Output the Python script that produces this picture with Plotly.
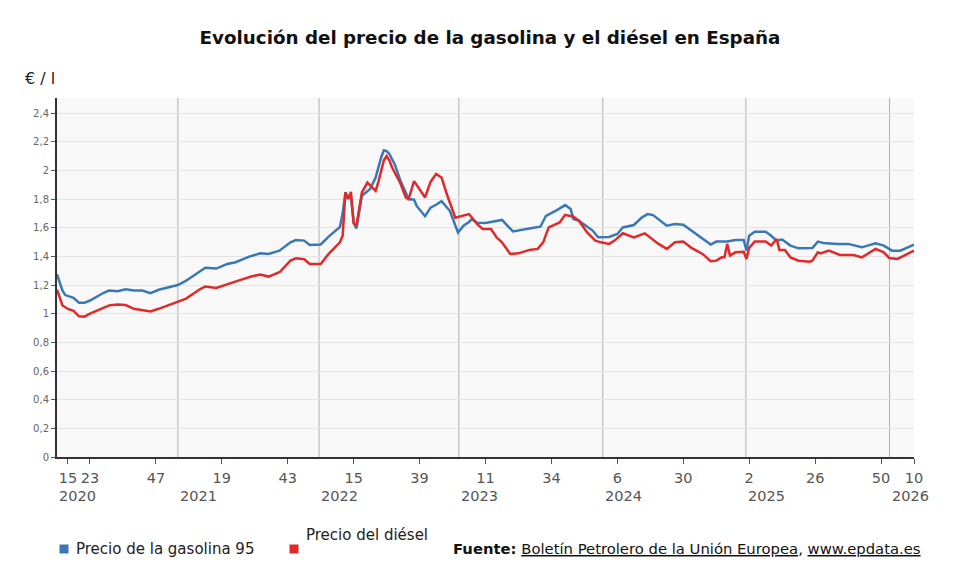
import plotly.graph_objects as go

# -----------------------------------------------------------
# Datos: índice = semana desde la 11 de 2020
# -----------------------------------------------------------
sem_gasolina = [0, 2, 3, 6, 8, 10, 12, 14, 17, 19, 22, 25, 28, 31, 34, 37, 41, 44, 47, 48,
                52, 54, 58, 62, 65, 70, 74, 77, 81, 85, 87, 90, 92, 96, 99, 103, 104, 105,
                106, 107, 108, 109, 111, 114, 116, 118, 119, 120, 121, 123, 125, 128, 130,
                131, 134, 136, 138, 140, 143, 145, 146, 148, 150, 151, 153, 156, 159, 162,
                166, 170, 173, 176, 178, 182, 185, 187, 188, 190, 193, 195, 197, 201, 204,
                206, 210, 213, 215, 217, 222, 225, 228, 231, 236, 238, 240, 244, 247, 250,
                251, 252, 254, 258, 260, 262, 264, 267, 270, 275, 277, 279, 284, 288, 293,
                298, 301, 304, 307, 312]
gasolina = [1.275, 1.16, 1.13, 1.11, 1.076, 1.076, 1.092, 1.115, 1.146, 1.162, 1.157, 1.171,
            1.162, 1.162, 1.143, 1.167, 1.185, 1.2, 1.23, 1.243,
            1.29, 1.32, 1.315, 1.347, 1.359, 1.398, 1.421, 1.417, 1.44, 1.498, 1.514, 1.51,
            1.48, 1.483, 1.54, 1.605, 1.70, 1.846,
            1.81, 1.82, 1.637, 1.595, 1.823, 1.87, 1.95, 2.09, 2.14, 2.135, 2.115, 2.04,
            1.93, 1.80, 1.795,
            1.75, 1.68, 1.74, 1.76, 1.785, 1.718, 1.62, 1.567, 1.614, 1.64, 1.66, 1.635,
            1.633, 1.642, 1.654,
            1.574, 1.59, 1.598, 1.607, 1.683, 1.723, 1.758, 1.73, 1.66, 1.649, 1.605, 1.58,
            1.533, 1.535, 1.556,
            1.602, 1.619, 1.672, 1.695, 1.688, 1.614, 1.626, 1.62, 1.579, 1.51, 1.482, 1.503,
            1.503, 1.514, 1.514,
            1.44, 1.544, 1.572, 1.572, 1.544, 1.51, 1.517, 1.475, 1.456, 1.458, 1.503, 1.493,
            1.487, 1.487, 1.463,
            1.491, 1.475, 1.44, 1.44, 1.482]

sem_diesel = [0, 2, 4, 6, 8, 10, 12, 14, 17, 19, 22, 25, 28, 31, 34, 37, 41, 44, 47, 52,
              54, 58, 62, 66, 71, 74, 77, 81, 85, 87, 90, 92, 96, 99, 103, 104, 105, 106,
              107, 108, 109, 111, 113, 116, 117, 119, 120, 121, 122, 123, 125, 127, 128,
              130, 133, 134, 136, 138, 140, 142, 145, 147, 150, 153, 155, 158, 160, 162,
              165, 168, 172, 175, 177, 179, 183, 185, 188, 190, 193, 196, 198, 201, 203,
              206, 210, 214, 219, 222, 225, 228, 231, 235, 238, 240, 242, 243, 244, 245,
              247, 250, 251, 252, 254, 258, 260, 262, 263, 265, 267, 270, 274, 275, 277,
              278, 281, 285, 290, 293, 298, 301, 303, 306, 309, 312]
diesel = [1.167, 1.057, 1.033, 1.02, 0.982, 0.979, 1.0, 1.018, 1.041, 1.058, 1.064, 1.06,
          1.034, 1.027, 1.016, 1.034, 1.064, 1.085, 1.105, 1.17,
          1.19, 1.18, 1.208, 1.231, 1.261, 1.273, 1.259, 1.289, 1.37, 1.387, 1.38, 1.347,
          1.347, 1.42, 1.498, 1.544, 1.846, 1.80,
          1.85, 1.63, 1.614, 1.846, 1.915, 1.857, 1.92, 2.07, 2.10, 2.07, 2.02, 1.98,
          1.91, 1.81, 1.80,
          1.925, 1.84, 1.811, 1.92, 1.975, 1.95, 1.83, 1.67, 1.68, 1.695, 1.625, 1.591,
          1.591, 1.533, 1.498,
          1.417, 1.421, 1.445, 1.452, 1.498, 1.602, 1.637, 1.69, 1.677, 1.649, 1.567, 1.51,
          1.498, 1.487, 1.51,
          1.561, 1.533, 1.561, 1.487, 1.452, 1.498, 1.503, 1.459, 1.417, 1.366, 1.37, 1.393,
          1.393, 1.487, 1.405,
          1.428, 1.432, 1.382, 1.459, 1.503, 1.503, 1.475, 1.521, 1.445, 1.445, 1.393, 1.37,
          1.363, 1.37, 1.428,
          1.42, 1.44, 1.41, 1.41, 1.393, 1.452, 1.428, 1.389, 1.382, 1.412, 1.44]

# etiquetas del eje X (nº de semana) y años
tick_sem = [4, 12, 36, 60, 84, 108, 132, 156, 180, 204, 228, 252, 276, 300, 312]
tick_txt = ["15", "23", "47", "19", "43", "15", "39", "11", "34", "6", "30", "2", "26", "50", "10"]
inicio_anio = [0, 44, 95.4, 146.3, 198.7, 250.8, 303.1]
anios = ["2020", "2021", "2022", "2023", "2024", "2025", "2026"]

y_ticks = [0, 0.2, 0.4, 0.6, 0.8, 1, 1.2, 1.4, 1.6, 1.8, 2, 2.2, 2.4]
y_txt = ["0", "0,2", "0,4", "0,6", "0,8", "1", "1,2", "1,4", "1,6", "1,8", "2", "2,2", "2,4"]

AZUL = "#3a78b5"
ROJO = "#e02a2a"
FUENTE = "DejaVu Sans"

# la página html mete 8px de margen al body -> el área de dibujo empieza en (8, 8)
OFF = 8
W, H = 980 - OFF, 588 - OFF
PX0, PX1, PY0, PY1 = 57, 914, 98, 457   # área del gráfico en la imagen de referencia
PW, PH = PX1 - PX0, PY1 - PY0


def px(xp):
    return (xp - PX0) / PW


def py(yp):
    return (PY1 - yp) / PH


fig = go.Figure()

fig.add_trace(go.Scatter(x=sem_gasolina, y=gasolina, mode="lines",
                         line=dict(color=AZUL, width=2.5), name="Precio de la gasolina 95"))
fig.add_trace(go.Scatter(x=sem_diesel, y=diesel, mode="lines",
                         line=dict(color=ROJO, width=2.5), name="Precio del diésel"))

# líneas verticales de cambio de año (menos la primera)
for xa in inicio_anio[1:]:
    fig.add_shape(type="line", xref="x", yref="paper", x0=xa, x1=xa, y0=0, y1=1,
                  line=dict(color="#b0b0b0", width=1), layer="below")

# años debajo de las semanas
for xa, txt in zip(inicio_anio, anios):
    fig.add_annotation(x=xa, xref="x", y=py(496), yref="paper", text=txt, showarrow=False,
                       xanchor="left", yanchor="middle",
                       font=dict(family=FUENTE, size=14.5, color="#555555"))

# unidad
fig.add_annotation(x=px(23), xref="paper", y=py(79), yref="paper", text="€ / l", showarrow=False,
                   xanchor="left", yanchor="middle", font=dict(family=FUENTE, size=16, color="#222222"))

# leyenda manual (el texto del diésel queda desplazado arriba, como en el original)
fig.add_shape(type="rect", xref="paper", yref="paper",
              x0=px(59.5), x1=px(68.5), y0=py(553.5), y1=py(544.5),
              fillcolor=AZUL, line=dict(width=0))
fig.add_shape(type="rect", xref="paper", yref="paper",
              x0=px(289.5), x1=px(298.5), y0=py(553.5), y1=py(544.5),
              fillcolor=ROJO, line=dict(width=0))
fig.add_annotation(x=px(74), xref="paper", y=py(548.5), yref="paper",
                   text="Precio de la gasolina 95", showarrow=False, xanchor="left", yanchor="middle",
                   font=dict(family=FUENTE, size=15, color="#222222"))
fig.add_annotation(x=px(304), xref="paper", y=py(535), yref="paper",
                   text="Precio del diésel", showarrow=False, xanchor="left", yanchor="middle",
                   font=dict(family=FUENTE, size=15, color="#222222"))

# fuente
fig.add_annotation(x=px(923), xref="paper", y=py(548), yref="paper",
                   text="<b>Fuente:</b> <u>Boletín Petrolero de la Unión Europea</u>, <u>www.epdata.es</u>",
                   showarrow=False, xanchor="right", yanchor="middle",
                   font=dict(family=FUENTE, size=14.8, color="#111111"))

fig.update_layout(
    width=W, height=H,
    title=dict(text="<b>Evolución del precio de la gasolina y el diésel en España</b>",
               x=(490 - OFF) / W, xanchor="center", y=1 - (38 - OFF) / H, yanchor="middle",
               font=dict(family=FUENTE, size=18.3, color="#111111")),
    paper_bgcolor="white",
    plot_bgcolor="#f8f8f8",
    showlegend=False,
    margin=dict(l=PX0 - OFF, r=980 - PX1, t=PY0 - OFF, b=588 - PY1, pad=0),
    font=dict(family=FUENTE),
)

fig.update_xaxes(range=[0, 312], tickmode="array", tickvals=tick_sem, ticktext=tick_txt,
                 showgrid=False, zeroline=False, showline=True, linecolor="#333333", linewidth=2,
                 ticks="outside", ticklen=5, tickcolor="#555555", ticklabelstandoff=2,
                 tickfont=dict(family=FUENTE, size=14.5, color="#555555"))
fig.update_yaxes(range=[0, 2.505], tickmode="array", tickvals=y_ticks, ticktext=y_txt,
                 showgrid=True, gridcolor="#e4e4e4", gridwidth=1, zeroline=False,
                 showline=True, linecolor="#333333", linewidth=2,
                 ticks="outside", ticklen=4, tickcolor="#555555",
                 tickfont=dict(family=FUENTE, size=10, color="#666666"))

fig.write_html("out.html")
